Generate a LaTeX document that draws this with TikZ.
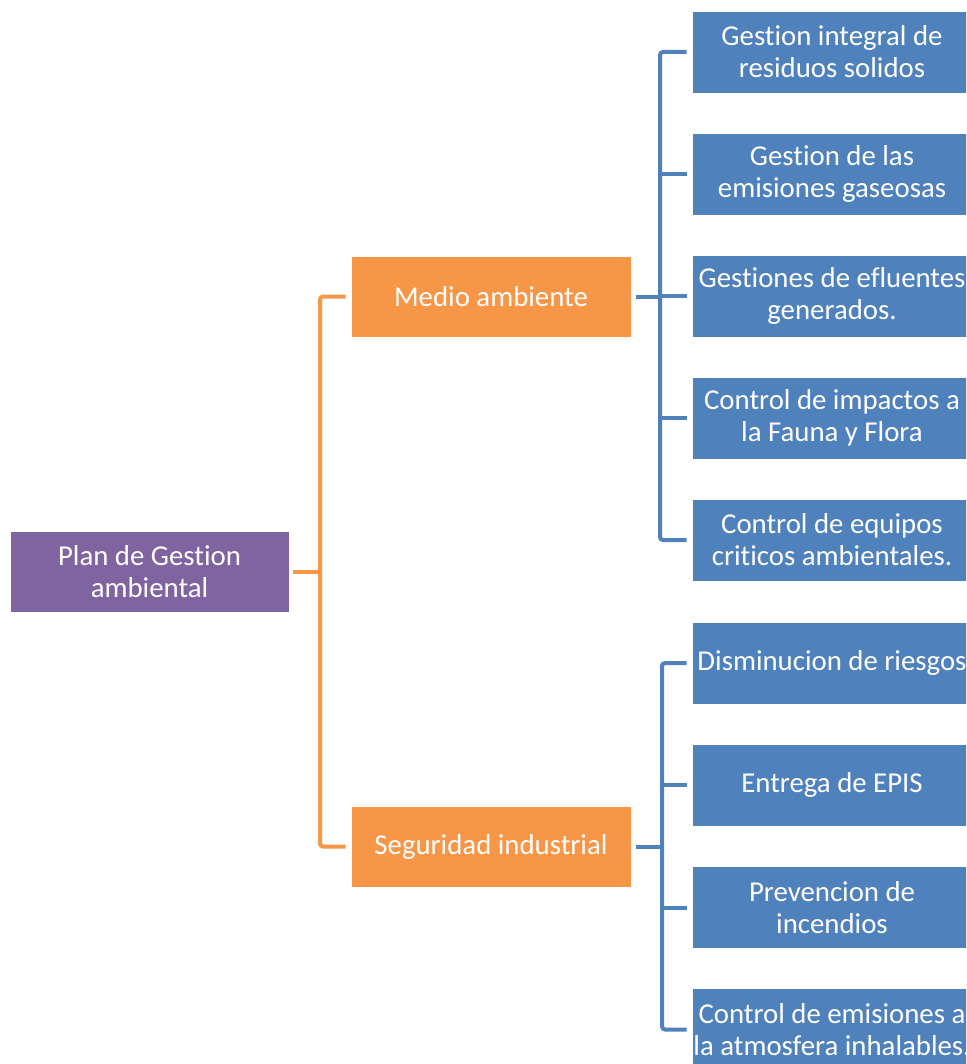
\documentclass[tikz,border=0pt]{standalone}
\usepackage{fontspec}
\setmainfont{Carlito}[Ligatures=NoCommon]
\definecolor{cpurple}{HTML}{8064A2}
\definecolor{corange}{HTML}{F79646}
\definecolor{cblue}{HTML}{4F81BD}
\begin{document}
\begin{tikzpicture}[x=1pt,y=-1pt,
  box/.style={draw=white,line width=0.6pt,text=white,align=center,inner sep=0pt,
    font=\fontsize{28.8}{32}\selectfont},
  rootbox/.style={box,fill=cpurple,minimum width=279pt,minimum height=81pt},
  midbox/.style={box,fill=corange,minimum width=280pt,minimum height=81pt},
  leafbox/.style={box,fill=cblue,minimum width=280pt,minimum height=82pt},
  oline/.style={draw=corange,line width=4pt,rounded corners=3pt},
  bline/.style={draw=cblue,line width=4pt,rounded corners=3pt}]
\useasboundingbox (0,0) rectangle (966,1064);
\clip (0,0) rectangle (966,1064);
\fill[white] (0,0) rectangle (966,1064);
\node[rootbox] (root) at (149.5,571.5) {Plan de Gestion\\ambiental};
\node[midbox] (medio) at (491,296.5) {Medio ambiente};
\node[midbox] (seg) at (491,846.5) {Seguridad industrial};
\node[leafbox] (a1) at (832,52) {Gestion integral de\\residuos solidos};
\node[leafbox] (a2) at (832,174) {Gestion de las\\emisiones gaseosas};
\node[leafbox] (a3) at (832,296) {Gestiones de efluentes\\generados.};
\node[leafbox] (a4) at (832,418) {Control de impactos a\\la Fauna y Flora};
\node[leafbox] (a5) at (832,540) {Control de equipos\\criticos ambientales.};
\node[leafbox] (b1) at (832,663) {Disminucion de riesgos};
\node[leafbox] (b2) at (832,785) {Entrega de EPIS};
\node[leafbox] (b3) at (832,907.5) {Prevencion de\\incendios};
\node[leafbox] (b4) at (832,1029.5) {Control de emisiones a\\la atmosfera inhalables.};
% orange connectors
\coordinate (oj) at (320,571.5);
\draw[oline] ([xshift=4pt]root.east) -- (oj);
\draw[oline] ([xshift=-5pt]medio.west) -| (oj) |- ([xshift=-5pt]seg.west);
% blue connectors, medio ambiente
\coordinate (bj1) at (660,296.5);
\draw[bline] ([xshift=5pt]medio.east) -- (bj1);
\draw[bline] ([xshift=-5pt]a1.west) -| (bj1) |- ([xshift=-5pt]a5.west);
\foreach \n in {a2,a3,a4}{\draw[bline] (bj1 |- \n.west) -- ([xshift=-5pt]\n.west);}
% blue connectors, seguridad
\coordinate (bj2) at (662,846.5);
\draw[bline] ([xshift=5pt]seg.east) -- (bj2);
\draw[bline] ([xshift=-5pt]b1.west) -| (bj2) |- ([xshift=-5pt]b4.west);
\foreach \n in {b2,b3}{\draw[bline] (bj2 |- \n.west) -- ([xshift=-5pt]\n.west);}
\end{tikzpicture}
\end{document}
